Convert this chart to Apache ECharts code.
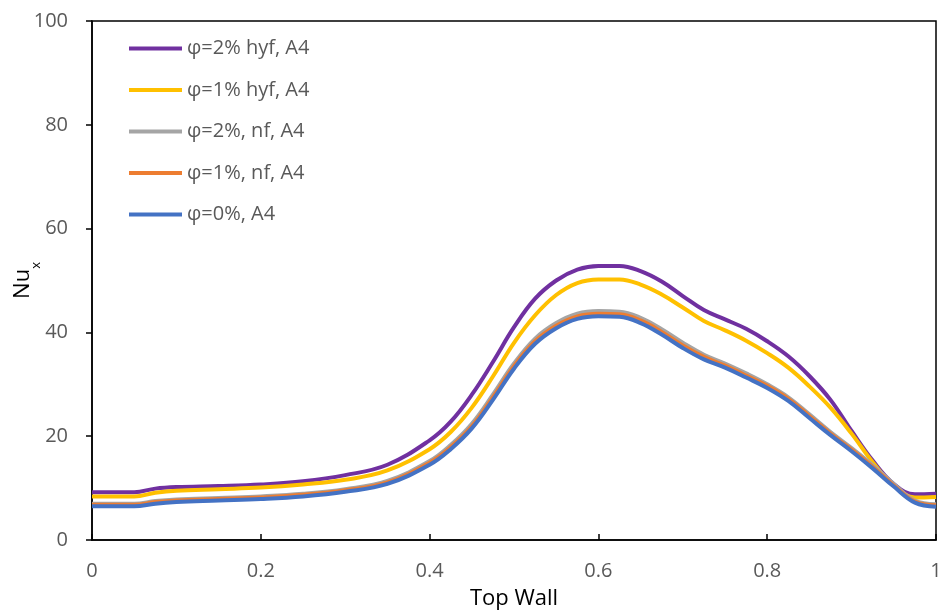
<!DOCTYPE html>
<html>
<head>
<meta charset="utf-8">
<script src="https://cdn.jsdelivr.net/npm/echarts@6/dist/echarts.min.js"></script>
<style>html,body{margin:0;padding:0;background:#fff}#c{width:943px;height:612px}</style>
</head>
<body>
<div id="c"></div>
<script>
const xs = [0,0.025,0.05,0.075,0.1,0.15,0.2,0.25,0.3,0.35,0.4,0.425,0.45,0.475,0.5,0.525,0.55,0.575,0.6,0.625,0.65,0.675,0.7,0.725,0.75,0.775,0.8,0.825,0.85,0.875,0.9,0.925,0.95,0.975,1];
const hyf2 = [9.2,9.2,9.2,9.9,10.2, 10.4,10.7,11.3,12.5,14.5, 19.2,22.8,28,34.3,41, 46.5,50,52.1,52.8,52.8, 51.8,49.8,47,44.3,42.5, 40.7,38.3,35.4,31.6,27, 21,15.3,10.8,8.8,8.9];
const hyf1 = [8.4,8.4,8.4,9.1,9.5, 9.8,10.1,10.7,11.6,13.4, 17.5,20.8,25.5,31.5,38, 43.3,47.2,49.5,50.2,50.2, 49.2,47.3,44.8,42.2,40.4, 38.4,36.0,33.2,29.6,25.5, 20.5,15.0,10.5,8.2,8.3];
const nf2 = [7.0,7.0,7.0,7.5,7.8, 8.1,8.4,8.9,9.8,11.4, 15.2,18.3,22.4,28,34, 38.8,41.8,43.6,44.1,44, 42.8,40.6,38,35.7,34, 32.1,30,27.5,24.2,20.8, 17.7,14.4,10.8,7.6,6.9];
const nf1 = [6.8,6.8,6.8,7.3,7.6, 7.9,8.2,8.7,9.6,11.1, 14.9,17.9,21.9,27.5,33.5, 38.3,41.3,43.1,43.6,43.5, 42.3,40.1,37.5,35.3,33.6, 31.7,29.7,27.2,23.9,20.5, 17.4,14.1,10.5,7.4,6.7];
const nf0 = [6.5,6.5,6.5,7.0,7.3, 7.6,7.9,8.4,9.3,10.8, 14.5,17.5,21.5,27,33, 37.8,40.8,42.6,43.1,43, 41.8,39.6,37,34.8,33.2, 31.3,29.3,26.8,23.5,20.2, 17.1,13.8,10.3,7.2,6.4];
const seriesNames = ['φ=2% hyf, A4','φ=1% hyf, A4','φ=2%, nf, A4','φ=1%, nf, A4','φ=0%, A4'];
const seriesValues = [hyf2, hyf1, nf2, nf1, nf0];
const colors = ['#7030A0','#FFC000','#A5A5A5','#ED7D31','#4472C4'];
const xTicks = ['0','0.2','0.4','0.6','0.8','1'];

const font = 'Open Sans, Noto Sans, sans-serif';
const chart = echarts.init(document.getElementById('c'), null, {renderer:'canvas'});
chart.setOption({
  animation: false,
  backgroundColor: '#fff',
  grid: {left: 92, top: 21, right: 7, bottom: 72, show: true, borderColor: '#000', borderWidth: 1.5, containLabel: false, outerBoundsMode: 'none'},
  legend: {
    orient: 'vertical', left: 124, top: 32,
    itemWidth: 53, itemHeight: 4, itemGap: 18.5,
    icon: 'rect',
    data: seriesNames,
    textStyle: {fontFamily: font, fontSize: 20, color: '#595959', lineHeight: 23}
  },
  xAxis: {
    type: 'value', min: 0, max: 1, interval: 0.2,
    name: 'Top Wall', nameLocation: 'middle', nameGap: 48, nameMoveOverlap: false,
    nameTextStyle: {fontFamily: font, fontSize: 22, color: '#000'},
    axisLine: {show: true, onZero: false, lineStyle: {color: '#000', width: 1.5}},
    axisTick: {show: true, inside: true, length: 6, lineStyle: {color: '#000', width: 1.5}},
    splitLine: {show: false},
    axisLabel: {fontFamily: font, fontSize: 20, color: '#595959', margin: 21,
      formatter: function(v){ return xTicks[Math.round(v/0.2)]; }}
  },
  yAxis: {
    type: 'value', min: 0, max: 100, interval: 20,
    name: '{a|Nu}{b|x}', nameLocation: 'middle', nameGap: 56, nameMoveOverlap: false,
    nameTextStyle: {fontFamily: font, color: '#000',
      rich: {a: {fontFamily: font, fontSize: 22, color: '#000', lineHeight: 26},
             b: {fontFamily: font, fontSize: 13, color: '#000', verticalAlign: 'bottom', lineHeight: 13, padding: [0,0,-7,0]}}},
    axisLine: {show: true, lineStyle: {color: '#000', width: 1.5}},
    axisTick: {show: true, inside: false, length: 6, lineStyle: {color: '#000', width: 1.5}},
    splitLine: {show: false},
    axisLabel: {fontFamily: font, fontSize: 20, color: '#595959', margin: 24}
  },
  series: seriesNames.map(function(n, i){
    return {
      name: n, type: 'line', smooth: 0.4, symbol: 'none',
      data: xs.map(function(x, j){ return [x, seriesValues[i][j]]; }),
      lineStyle: {color: colors[i], width: 4},
      itemStyle: {color: colors[i]},
      z: 2 + i
    };
  })
});
</script>
</body>
</html>
